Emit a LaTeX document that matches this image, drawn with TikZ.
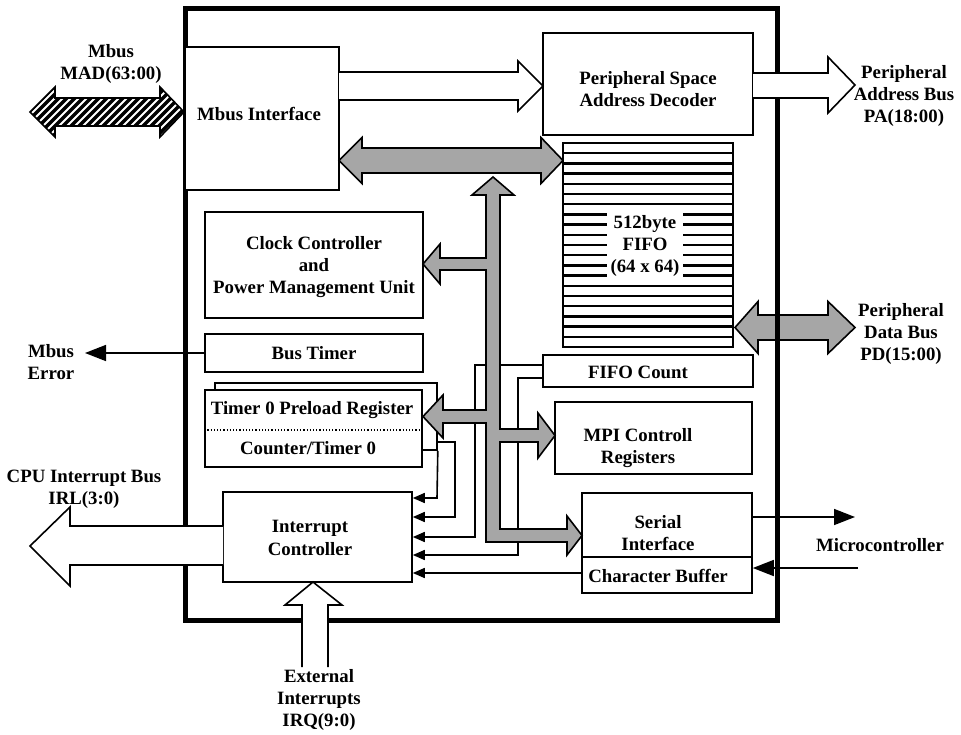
\documentclass[tikz,border=0pt]{standalone}
\usepackage{fontspec}
\setmainfont{Liberation Serif}
\usetikzlibrary{arrows.meta}
\begin{document}
\begin{tikzpicture}[x=1pt,y=-1pt,
  every node/.style={font=\fontsize{18.8}{22.3}\selectfont\bfseries, align=center, inner sep=0pt},
  box/.style={draw, line width=1.6pt, fill=white},
  sig/.style={line width=1.6pt},
  tipS/.style={-{Triangle[length=12pt,width=10pt]}},
  tipL/.style={-{Triangle[length=21pt,width=16pt]}},
  hollow/.style={draw, line width=1.6pt, fill=white, line join=miter},
  busfill/.style={draw, line width=1.6pt, fill=black!35, line join=miter},
]
\useasboundingbox (0,0) rectangle (961,734);

% Peripheral data bus (under the outer frame)
\path[busfill] (735,327.5) -- (758,301.5) -- (758,315) -- (828,315) -- (828,301.5) -- (855,327.5) -- (828,353.5) -- (828,340) -- (758,340) -- (758,353.5) -- cycle;

% outer frame
\node[draw, line width=5pt, minimum width=592pt, minimum height=612pt] (frame) at (481,314) {};

% boxes
\node[box, minimum width=154pt, minimum height=143pt] (mbi) at (262,118.5) {};
\node[box, minimum width=210pt, minimum height=102pt] (dec) at (648,84) {};
\node[box, minimum width=218pt, minimum height=106pt] (clk) at (314,265) {};
\node[box, minimum width=218pt, minimum height=38pt] (bt) at (314,353) {};
\node[box, minimum width=222pt, minimum height=67pt] (tbk) at (326,416.5) {};
\node[box, minimum width=217pt, minimum height=77pt] (tm) at (313.5,428.5) {};
\node[box, minimum width=210pt, minimum height=32pt] (fc) at (648,371) {};
\node[box, minimum width=197pt, minimum height=72pt] (mpi) at (653.5,438) {};
\node[box, minimum width=189pt, minimum height=90pt] (ic) at (317.5,537) {};
\node[box, minimum width=170pt, minimum height=100pt] (si) at (667,543) {};
\draw[sig] (si.west |- 0,557) -- (si.east |- 0,557);
\draw[dotted, line width=1.2pt] (tm.west |- 0,430) -- (tm.east |- 0,430);

% interrupt inputs
\coordinate (i1) at (ic.east |- 0,498);
\coordinate (i2) at (ic.east |- 0,517);
\coordinate (i3) at (ic.east |- 0,537);
\coordinate (i4) at (ic.east |- 0,555);
\coordinate (i5) at (ic.east |- 0,573);
\draw[sig, tipS] (tbk.south east) -- (437,498) -- (i1);
\draw[sig] (tm.east |- 0,450) -- (437,450);
\draw[sig, tipS] (437,442) -- (455,442) -- (455,517) -- (i2);
\draw[sig, tipS] (fc.west |- 0,365) -- (475,365) -- (475,537) -- (i3);
\draw[sig, tipS] (fc.west |- 0,378) -- (518,378) -- (518,555) -- (i4);
\draw[sig, tipS] (si.west |- 0,573) -- (i5);

% Mbus error and microcontroller
\coordinate (merr) at (85,353);
\draw[sig, tipL] (bt.west) -- (merr);
\coordinate (mcout) at (855,517);
\coordinate (mcin) at (858,568);
\draw[sig, tipL] (si.east |- mcout) -- (mcout);
\draw[sig, tipL] (mcin) -- (si.east |- mcin);

% internal bus
\path[busfill] (339,160.5) -- (362,137.5) -- (362,148) -- (541,148) -- (541,137.5) -- (563,160.5) -- (541,183.5) -- (541,173) -- (362,173) -- (362,183.5) -- cycle;
\path[busfill] (493,177) -- (514,195) -- (500,195) -- (500,429) -- (538,429) -- (538,413) -- (555,435.5) -- (538,458) -- (538,442) -- (500,442) -- (500,529) -- (567,529) -- (567,516) -- (582,535.5) -- (567,555) -- (567,542) -- (486,542) -- (486,423) -- (443,423) -- (443,438) -- (423,416.5) -- (443,395) -- (443,410) -- (486,410) -- (486,270) -- (440,270) -- (440,284) -- (423,264) -- (440,244) -- (440,258) -- (486,258) -- (486,195) -- (472,195) -- cycle;

% hollow arrows
\path[hollow] (339,72) -- (518,72) -- (518,61) -- (543,86) -- (518,111) -- (518,100) -- (339,100);
\path[hollow] (753,73) -- (828,73) -- (828,57) -- (855,85) -- (828,113) -- (828,98) -- (753,98);
\path[hollow] (223,526) -- (70,526) -- (70,507) -- (30,546) -- (70,586) -- (70,565) -- (223,565);
\path[hollow] (302,667) -- (302,605) -- (285,605) -- (313,582) -- (342,605) -- (328,605) -- (328,667);

% Mbus hatched arrow
\begin{scope}
\clip (30,112) -- (55,87) -- (55,98) -- (160,98) -- (160,87) -- (184,112) -- (160,137) -- (160,126) -- (55,126) -- (55,137) -- cycle;
\fill[black] (20,80) rectangle (190,145);
\foreach \t in {0,8,...,240} \draw[white, line width=1.8pt] (\t-40,145) -- (\t+25,80);
\end{scope}
\draw[line width=1.6pt, line join=miter] (30,112) -- (55,87) -- (55,98) -- (160,98) -- (160,87) -- (184,112) -- (160,137) -- (160,126) -- (55,126) -- (55,137) -- cycle;

% FIFO
\node[box, minimum width=170pt, minimum height=204pt] (fifo) at (648,245) {};
\foreach \k in {1,...,19} \draw[line width=2.4pt] (563,{143+\k*10.2}) -- (733,{143+\k*10.2});
\node[fill=white, inner xsep=4pt, inner ysep=3pt] (lfifo) at (645,246) {512byte\\FIFO\\(64 x 64)};

% labels
\node (lmad) at (111,64) {Mbus\\MAD(63:00)};
\node (lmbi) at (259,114) {Mbus Interface};
\node (ldec) at (648,89) {Peripheral Space\\Address Decoder};
\node (lpa) at (904,96) {Peripheral\\Address Bus\\PA(18:00)};
\node (lclk) at (314,267) {Clock Controller\\and\\Power Management Unit};
\node (lbt) at (314,353) {Bus Timer};
\node (lerr) at (51,362) {Mbus\\Error};
\node (lpd) at (901,334) {Peripheral\\Data Bus\\PD(15:00)};
\node (lfc) at (638,372) {FIFO Count};
\node (ltp) at (312,410) {Timer 0 Preload Register};
\node (lct) at (308,448) {Counter/Timer 0};
\node (lmpi) at (638,448) {MPI Controll\\Registers};
\node (lcpu) at (84,489) {CPU Interrupt Bus\\IRL(3:0)};
\node (lic) at (310,538) {Interrupt\\Controller};
\node (lsi) at (658,533) {Serial\\Interface};
\node (lcb) at (658,576) {Character Buffer};
\node (lmc) at (880,545) {Microcontroller};
\node (lext) at (319,700) {External\\Interrupts\\IRQ(9:0)};
\end{tikzpicture}
\end{document}
